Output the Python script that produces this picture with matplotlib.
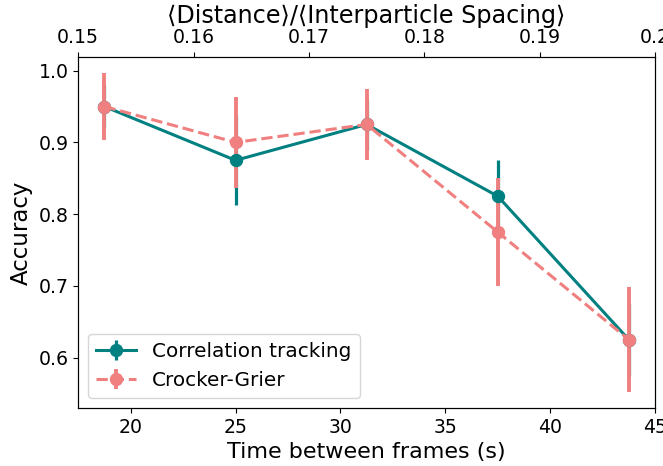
import numpy as np
import matplotlib
matplotlib.use("Agg")
import matplotlib.pyplot as plt

# time between frames (s)
times = [18.75, 25.0, 31.25, 37.5, 43.75]

corr_acc = [0.95, 0.875, 0.925, 0.825, 0.625]
corr_err = [0.03, 0.0625, 0.035, 0.05, 0.05]

cg_acc = [0.95, 0.90, 0.925, 0.775, 0.625]
cg_err = [0.047, 0.063, 0.05, 0.075, 0.073]

top_ticks = [0.15, 0.16, 0.17, 0.18, 0.19, 0.2]
top_labels = ["0.15", "0.16", "0.17", "0.18", "0.19", "0.2"]

plt.rcParams["xtick.labelsize"] = 13.6
plt.rcParams["ytick.labelsize"] = 13.6

fig, ax = plt.subplots(figsize=(6.63, 4.66), dpi=100)
fig.subplots_adjust(left=0.118, right=0.988, top=0.878, bottom=0.1245)

ax.errorbar(times, corr_acc, yerr=corr_err, color="teal", lw=2.2,
            marker="o", ms=8.6, elinewidth=2.3, label="Correlation tracking")
cg = ax.errorbar(times, cg_acc, yerr=cg_err, color="lightcoral", lw=2.2,
                 marker="o", ms=8.6, elinewidth=2.8, label="Crocker-Grier")
# dashed connecting line only, error bars stay solid
cg[0].set_linestyle("--")

ax.set_xlim(17.5, 45)
ax.set_xticks([20, 25, 30, 35, 40, 45])
ax.set_xlabel("Time between frames (s)", fontsize=16)
ax.set_ylabel("Accuracy", fontsize=16.5)
ax.legend(loc="lower left", fontsize=14.4)

ax2 = ax.twiny()
ax2.set_xlim(0.15, 0.2)
ax2.set_xticks(top_ticks)
ax2.set_xticklabels(top_labels)
ax2.set_xlabel("\u27e8Distance\u27e9/\u27e8Interparticle Spacing\u27e9", fontsize=17.2)

fig.savefig("out.png", dpi=100)
